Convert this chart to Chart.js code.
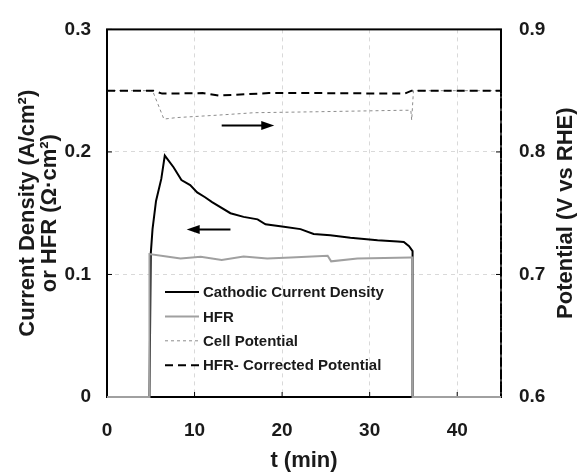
<!DOCTYPE html>
<html>
<head>
<meta charset="utf-8">
<script src="https://cdn.jsdelivr.net/npm/chart.js@4"></script>
<style>
  body { margin: 0; background: #fff; }
</style>
</head>
<body>
<canvas id="chart" width="586" height="473"></canvas>
<script>
// series, time in minutes
const currentTime = [0, 4.85, 5.0, 5.2, 5.6, 6.2, 6.6, 7.6, 8.5, 9.5, 10.3, 11.2, 12.0, 14.1, 15.6, 17.2, 18.1, 20.2, 22.1, 23.6, 25.5, 27.8, 30.9, 33.2, 33.9, 34.5, 34.9, 34.9, 45];
const currentValues = [0, 0, 0.117, 0.137, 0.160, 0.178, 0.197, 0.1875, 0.177, 0.173, 0.167, 0.163, 0.159, 0.150, 0.147, 0.145, 0.141, 0.139, 0.137, 0.133, 0.132, 0.130, 0.128, 0.127, 0.1265, 0.123, 0.119, 0, 0];

const hfrTime = [0, 4.85, 4.85, 6.8, 8.4, 10.7, 13.1, 15.6, 18.3, 21.0, 25.2, 25.6, 28.6, 34.7, 34.9, 34.9, 45];
const hfrValues = [0, 0, 0.1166, 0.1147, 0.1131, 0.1145, 0.1118, 0.1147, 0.1131, 0.1139, 0.1153, 0.1107, 0.1131, 0.1139, 0.1139, 0, 0];

const cellTime = [0, 5.2, 6.5, 7.9, 12.6, 16.8, 24.0, 33.8, 34.7, 34.8, 35.0, 45, 45];
const cellValues = [0.85, 0.85, 0.8268, 0.828, 0.830, 0.832, 0.8328, 0.834, 0.834, 0.826, 0.85, 0.85, 0.6];

const corrTime = [0, 5.3, 6.3, 10.9, 12.8, 18.5, 24.6, 34.0, 34.8, 45, 45];
const corrValues = [0.85, 0.85, 0.8476, 0.848, 0.846, 0.848, 0.848, 0.8476, 0.85, 0.85, 0.6];

const xTicks = [0, 10, 20, 30, 40];

// arrows: [t start, t end, value, axis]
const arrows = [
  [13.1, 19.1, 0.8216, 'y1'],
  [14.1, 9.1, 0.1366, 'y']
];

const fontFamily = '"Liberation Sans", Arial, Helvetica, sans-serif';

function pts(t, v) {
  return t.map((x, i) => ({ x: x, y: v[i] }));
}

const series = [
  { label: 'Cathodic Current Density', data: pts(currentTime, currentValues), axis: 'y', color: '#000', width: 2, dash: [], order: 3 },
  { label: 'HFR', data: pts(hfrTime, hfrValues), axis: 'y', color: '#a0a0a0', width: 2, dash: [], order: 1 },
  { label: 'Cell Potential', data: pts(cellTime, cellValues), axis: 'y1', color: '#8c8c8c', width: 1, dash: [3, 3], order: 2 },
  { label: 'HFR- Corrected Potential', data: pts(corrTime, corrValues), axis: 'y1', color: '#000', width: 2, dash: [8, 5], order: 0 }
];

const frame = {
  id: 'frame',
  beforeDatasetsDraw(chart) {
    const { ctx, chartArea: a, scales } = chart;
    ctx.save();
    ctx.strokeStyle = '#000';
    ctx.lineWidth = 2;
    ctx.strokeRect(a.left, a.top, a.right - a.left, a.bottom - a.top);
    ctx.lineWidth = 1;
    ctx.beginPath();
    scales.y.ticks.forEach(t => {
      const p = scales.y.getPixelForValue(t.value);
      ctx.moveTo(a.left, p); ctx.lineTo(a.left + 5, p);
    });
    scales.y1.ticks.forEach(t => {
      const p = scales.y1.getPixelForValue(t.value);
      ctx.moveTo(a.right, p); ctx.lineTo(a.right - 5, p);
    });
    scales.x.ticks.forEach(t => {
      const p = scales.x.getPixelForValue(t.value);
      ctx.moveTo(p, a.bottom); ctx.lineTo(p, a.bottom - 5);
    });
    ctx.stroke();
    ctx.restore();
  },
  afterDatasetsDraw(chart) {
    const { ctx, chartArea: a, scales } = chart;
    ctx.save();
    // arrows
    ctx.strokeStyle = '#000';
    ctx.fillStyle = '#000';
    ctx.lineWidth = 2;
    arrows.forEach(([t0, t1, v, ax]) => {
      const x0 = scales.x.getPixelForValue(t0);
      const x1 = scales.x.getPixelForValue(t1);
      const y = scales[ax].getPixelForValue(v);
      const dir = Math.sign(x1 - x0);
      ctx.beginPath();
      ctx.moveTo(x0, y); ctx.lineTo(x1 - dir * 10, y);
      ctx.stroke();
      ctx.beginPath();
      ctx.moveTo(x1, y);
      ctx.lineTo(x1 - dir * 13, y - 4.5);
      ctx.lineTo(x1 - dir * 13, y + 4.5);
      ctx.closePath();
      ctx.fill();
    });
    // legend
    ctx.font = 'bold 15px ' + fontFamily;
    ctx.textBaseline = 'middle';
    ctx.textAlign = 'left';
    series.forEach((s, i) => {
      const y = 292 + i * 24.4;
      ctx.beginPath();
      ctx.strokeStyle = s.color;
      ctx.lineWidth = s.width;
      ctx.setLineDash(s.dash);
      ctx.moveTo(165, y); ctx.lineTo(199, y);
      ctx.stroke();
      ctx.setLineDash([]);
      ctx.fillStyle = '#1a1a1a';
      ctx.fillText(s.label, 203, y + 1);
    });
    // right axis title, reading bottom to top
    ctx.translate(566, (a.top + a.bottom) / 2);
    ctx.rotate(-Math.PI / 2);
    ctx.textAlign = 'center';
    ctx.font = 'bold 22px ' + fontFamily;
    ctx.fillStyle = '#1a1a1a';
    ctx.fillText('Potential (V vs RHE)', 0, 0);
    ctx.restore();
  }
};

const tickFont = { family: fontFamily, size: 19, weight: 'bold' };
const titleFont = { family: fontFamily, size: 22, weight: 'bold', lineHeight: 1.0 };
const grid = { color: '#d9d9d9', lineWidth: 1, drawTicks: false };
const border = { display: false, dash: [4, 4] };

new Chart(document.getElementById('chart'), {
  type: 'line',
  data: {
    datasets: series.map(s => ({
      label: s.label,
      data: s.data,
      yAxisID: s.axis,
      borderColor: s.color,
      borderWidth: s.width,
      borderDash: s.dash,
      pointRadius: 0,
      tension: 0,
      fill: false,
      order: s.order,
      clip: 4
    }))
  },
  options: {
    responsive: false,
    animation: false,
    devicePixelRatio: 1,
    layout: { padding: { top: 23, left: 0, right: 0, bottom: 0 } },
    plugins: { legend: { display: false }, tooltip: { enabled: false } },
    scales: {
      x: {
        type: 'linear', min: 0, max: 45,
        afterBuildTicks: s => { s.ticks = xTicks.map(v => ({ value: v })); },
        afterFit: s => { s.height = 76; },
        grid: grid, border: border,
        ticks: { font: tickFont, color: '#1a1a1a', padding: 22 },
        title: { display: true, text: 't (min)', font: titleFont, color: '#1a1a1a', padding: { top: 0, bottom: 1 } }
      },
      y: {
        position: 'left', min: 0, max: 0.3,
        afterFit: s => { s.width = 107; },
        grid: grid, border: border,
        ticks: { stepSize: 0.1, font: tickFont, color: '#1a1a1a', padding: 16,
          callback: v => v === 0 ? '0' : v.toFixed(1) },
        title: { display: true, text: ['Current Density (A/cm²)', 'or HFR (Ω·cm²)'], font: titleFont, color: '#1a1a1a', padding: { top: 17, bottom: 0 } }
      },
      y1: {
        position: 'right', min: 0.6, max: 0.9,
        afterFit: s => { s.width = 85; },
        grid: { drawOnChartArea: false, drawTicks: false },
        border: { display: false },
        ticks: { stepSize: 0.1, font: tickFont, color: '#1a1a1a', padding: 18,
          callback: v => v.toFixed(1) }
      }
    }
  },
  plugins: [frame]
});
</script>
</body>
</html>
